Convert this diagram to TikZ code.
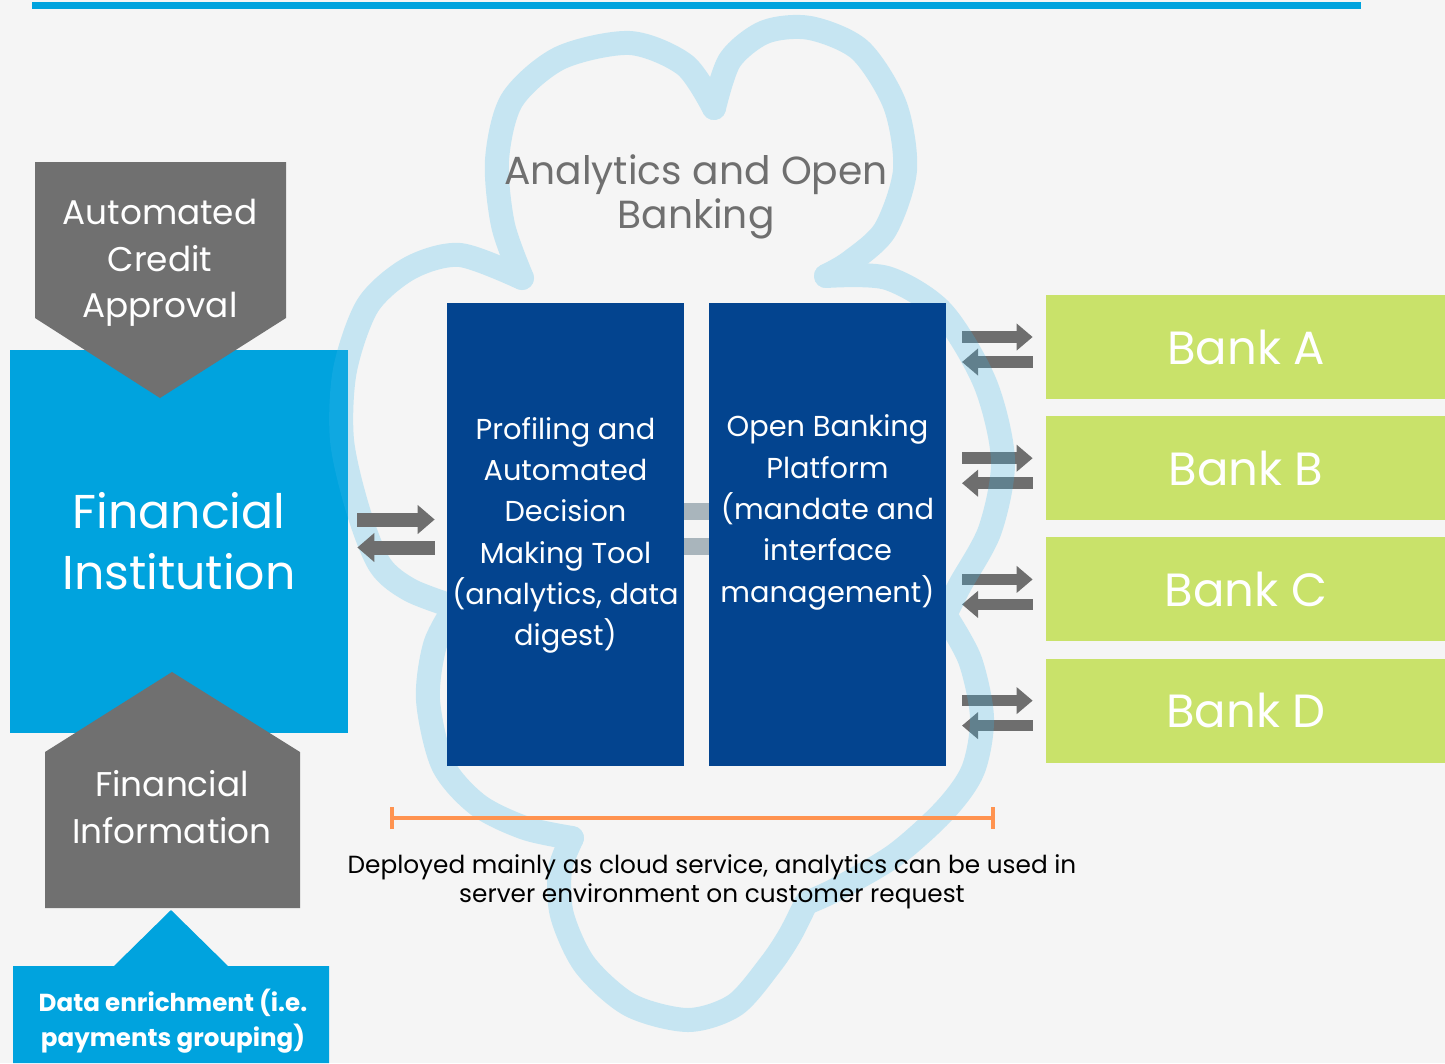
\documentclass[tikz,border=0pt]{standalone}
\usepackage{fontspec}
\setmainfont{Poppins}
\usetikzlibrary{positioning,calc,arrows.meta}

\definecolor{pagegray}{HTML}{F5F5F5}
\definecolor{fiblue}{HTML}{00A3DE}
\definecolor{tagray}{HTML}{707070}
\definecolor{titlegray}{HTML}{6F6F6F}
\definecolor{navy}{HTML}{03448F}
\definecolor{lime}{HTML}{C9E26A}
\definecolor{cloudblue}{RGB}{60,185,235}
\definecolor{linkgray}{HTML}{A9B5BC}
\definecolor{pipegray}{HTML}{6E6E6E}
\definecolor{spanorange}{HTML}{FF9350}

\tikzset{
  fibox/.style={fill=fiblue, text=white, minimum width=67.6mm, minimum height=76.6mm,
    align=center, font=\fontsize{27}{35}\selectfont},
  toolbox/.style={fill=navy, minimum width=47.4mm, minimum height=92.6mm, inner sep=0pt},
  tooltext/.style={text=white, align=center, font=\fontsize{16.4}{23.5}\selectfont},
  bankbox/.style={fill=lime, text=white, minimum width=80mm, minimum height=20.8mm,
    inner sep=0pt, font=\fontsize{26.5}{30}\selectfont},
  tagtext/.style={text=white, align=center, font=\fontsize{19.5}{26.5}\selectfont},
  pipe/.style={draw=pipegray, line width=2.3mm, -{Triangle[length=3.2mm,width=5.2mm]}},
  widepipe/.style={pipe, line width=2.8mm, -{Triangle[length=3.4mm,width=5.6mm]}},
  link/.style={draw=linkgray, line width=3.3mm},
  cloudline/.style={draw=cloudblue, line width=4.8mm, line cap=round, line join=round},
  spanbar/.style={draw=spanorange, line width=0.8mm, {Bar[width=4.4mm]}-{Bar[width=4.4mm]}},
}

\begin{document}
\begin{tikzpicture}[x=0.2mm, y=-0.2mm]
  % page and top rule
  \fill[pagegray] (0,0) rectangle (1445,1063);
  \useasboundingbox (0,0) rectangle (1445,1063);
  \fill[fiblue] (32,2) rectangle (1361,9);

  % left column
  \node[fibox] (fi) at (179,541) {Financial\\Institution};
  \fill[tagray] (35,162) -- (286,162) -- (286,318) -- (160,398) -- (35,318) -- cycle;
  \node[tagtext] (credit) at (160,263) {Automated\\Credit\\Approval};
  \fill[tagray] (45,908) -- (45,752) -- (172,672) -- (300,752) -- (300,908) -- cycle;
  \node[tagtext] (fininfo) at (172,807) {Financial\\Information};
  \fill[fiblue] (13,1063) -- (13,966) -- (114,966) -- (171,910) -- (228,966)
    -- (329,966) -- (329,1063) -- cycle;
  \node[text=white, align=center, font=\bfseries\fontsize{14}{19.5}\selectfont] (enrich)
    at (173,1021) {Data enrichment (i.e.\\payments grouping)};

  % banks
  \node[bankbox] (bankA) at (1246,347) {Bank A};
  \node[bankbox, below=3.3mm of bankA] (bankB) {Bank B};
  \node[bankbox, below=3.3mm of bankB] (bankC) {Bank C};
  \node[bankbox, below=3.3mm of bankC] (bankD) {Bank D};

  \coordinate (platformeast) at (946,534.5);
  \foreach \bank in {bankA,bankB,bankC,bankD} {
    \draw[pipe] ($(platformeast |- \bank.west)+(16,-10)$) -- ($(\bank.west)+(-13,-10)$);
    \draw[pipe] ($(\bank.west)+(-13,15)$) -- ($(platformeast |- \bank.west)+(16,15)$);
  }

  % cloud outline, one lobe at a time
  \begin{scope}[transparency group, opacity=0.25]
    \draw[cloudline] plot[smooth] coordinates {(455,607) (410,590) (380,565) (358,510)
      (342,440) (345,370) (368,305) (410,268) (460,255) (522,278)};
    \draw[cloudline] plot[smooth] coordinates {(522,278) (503,225) (497,160) (512,100)
      (560,58) (630,43) (685,65) (714,108)};
    \draw[cloudline] plot[smooth] coordinates {(714,108) (730,60) (765,32) (810,28)
      (860,50) (895,105) (905,170) (885,230) (850,262) (826,276)};
    \draw[cloudline] plot[smooth] coordinates {(826,276) (887,278) (942,312) (985,383)
      (1003,460) (990,530) (960,585) (945,615)};
    \draw[cloudline] plot[smooth] coordinates {(945,615) (970,660) (982,718) (973,770)
      (945,810) (895,855) (835,890) (806,903)};
    \draw[cloudline] plot[smooth] coordinates {(806,903) (790,935) (770,965) (735,1005)
      (688,1020) (630,1005) (585,965) (562,915) (560,870) (572,838)};
    \draw[cloudline] plot[smooth] coordinates {(572,838) (525,828) (478,805) (443,765)
      (428,700) (435,645) (455,607)};
  \end{scope}

  \node[titlegray, align=center, font=\fontsize{22.3}{25}\selectfont] (title)
    at (696,197) {Analytics and Open\\Banking};

  % analytics and platform
  \node[toolbox] (tool) at (565.5,534.5) {};
  \node[toolbox] (platform) at (827.5,534.5) {};
  \node[tooltext] at ($(tool)+(0,1)$) {Profiling and\\Automated\\Decision\\Making Tool\\(analytics, data\\digest)};
  \node[tooltext] at ($(platform)+(0,-22)$) {Open Banking\\Platform\\(mandate and\\interface\\management)};
  \draw[link] ($(tool.east)+(0,-23)$) -- ($(platform.west)+(0,-23)$);
  \draw[link] ($(tool.east)+(0,12)$) -- ($(platform.west)+(0,12)$);

  \draw[widepipe] ($(fi.east |- tool.west)+(9,-15)$) -- ($(tool.west)+(-12,-15)$);
  \draw[widepipe] ($(tool.west)+(-12,13)$) -- ($(fi.east |- tool.west)+(9,13)$);

  % deployment span
  \coordinate (spanL) at (390,818);
  \coordinate (spanR) at (995,818);
  \draw[spanbar] (spanL) -- (spanR);
  \node[align=center, font=\fontsize{14.1}{16.5}\selectfont] (deploy) at (712,882)
    {Deployed mainly as cloud service, analytics can be used in\\server environment on customer request};
\end{tikzpicture}
\end{document}
